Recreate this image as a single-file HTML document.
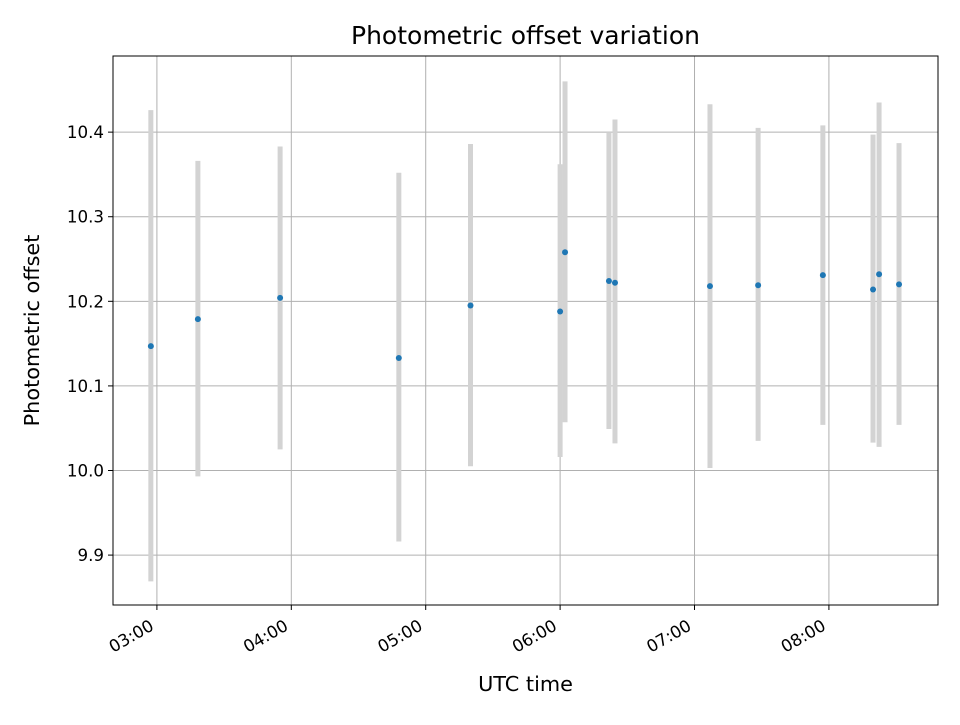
<!DOCTYPE html>
<html><head><meta charset="utf-8"><style>
body{margin:0;background:#fff;}
svg text{font-family:"DejaVu Sans","Liberation Sans",sans-serif;}
</style></head><body>
<svg id="chart" width="960" height="720" xmlns="http://www.w3.org/2000/svg">
<rect width="960" height="720" fill="#fff"/>
<g id="grid"></g><g id="marks"></g><g id="axes"></g>
</svg>
<script>
const timesMin=[177.3,198.3,235,288,320,360,362.2,381.8,384.5,426.9,448.4,477.3,499.7,502.4,511.3];
const offsets=[10.147,10.179,10.204,10.133,10.195,10.188,10.258,10.224,10.222,10.218,10.219,10.231,10.214,10.232,10.220];
const errHigh=[10.426,10.366,10.383,10.352,10.386,10.362,10.460,10.400,10.415,10.433,10.405,10.408,10.397,10.435,10.387];
const errLow=[9.869,9.993,10.025,9.916,10.005,10.016,10.057,10.049,10.032,10.003,10.035,10.054,10.033,10.028,10.054];
const xTicks=[180,240,300,360,420,480];
const xTickLabels=["03:00","04:00","05:00","06:00","07:00","08:00"];
const yTicks=[9.9,10.0,10.1,10.2,10.3,10.4];
const yTickLabels=["9.9","10.0","10.1","10.2","10.3","10.4"];

const L=113,R=938,T=56,B=605;
const xMin=160.4,xMax=528.7,yMin=9.841,yMax=10.490;
const X=v=>L+(v-xMin)/(xMax-xMin)*(R-L);
const Y=v=>B-(v-yMin)/(yMax-yMin)*(B-T);
const NS="http://www.w3.org/2000/svg";
function mk(tag,attrs,parent){const e=document.createElementNS(NS,tag);for(const k in attrs)e.setAttribute(k,attrs[k]);parent.appendChild(e);return e;}
const grid=document.getElementById('grid'),marks=document.getElementById('marks'),axes=document.getElementById('axes');

xTicks.forEach((t,i)=>{
  const x=X(t);
  const g=mk('line',{x1:x,x2:x,y1:T,y2:B,stroke:'#b0b0b0','stroke-width':1},grid);
  
  
  const tk=mk('line',{x1:x,x2:x,y1:B,y2:B+5,stroke:'#000','stroke-width':1},axes);
  
  
  const ax=x-2,ay=B+24;
  const tx=mk('text',{x:ax,y:ay,'font-size':16.7,'text-anchor':'end',transform:`rotate(-30 ${ax} ${ay})`},axes);
  
  
  tx.textContent=xTickLabels[i];
});
yTicks.forEach((t,i)=>{
  const y=Y(t);
  const g=mk('line',{x1:L,x2:R,y1:y,y2:y,stroke:'#b0b0b0','stroke-width':1},grid);
  
  
  const tk=mk('line',{x1:L-5,x2:L,y1:y,y2:y,stroke:'#000','stroke-width':1},axes);
  
  
  const tx=mk('text',{x:L-9,y:y+6,'font-size':16.7,'text-anchor':'end'},axes);
  
  
  tx.textContent=yTickLabels[i];
});
timesMin.forEach((t,i)=>{
  const x=X(t);
  const eb=mk('line',{x1:x,x2:x,y1:Y(errHigh[i]),y2:Y(errLow[i]),stroke:'#d3d3d3','stroke-width':5},marks);
  
  
});
timesMin.forEach((t,i)=>{
  const c=mk('circle',{cx:X(t),cy:Y(offsets[i]),r:3,fill:'#1f77b4'},marks);
  
  
});
const fr=mk('rect',{x:L,y:T,width:R-L,height:B-T,fill:'none',stroke:'#000','stroke-width':1},axes);


const title=mk('text',{x:(L+R)/2,y:44,'font-size':25,'text-anchor':'middle'},axes);


title.textContent='Photometric offset variation';
const xl=mk('text',{x:(L+R)/2,y:691,'font-size':20.8,'text-anchor':'middle'},axes);


xl.textContent='UTC time';
const yl=mk('text',{x:39,y:(T+B)/2,'font-size':20.8,'text-anchor':'middle',transform:`rotate(-90 39 ${(T+B)/2})`},axes);


yl.textContent='Photometric offset';
</script>
</body></html>
